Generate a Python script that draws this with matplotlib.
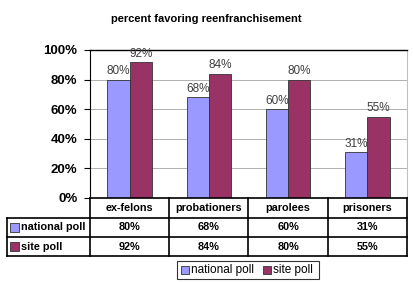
import matplotlib
matplotlib.use("Agg")
import matplotlib.pyplot as plt
from matplotlib.patches import Rectangle
import numpy as np

plt.rcParams['font.family'] = ['Liberation Sans', 'DejaVu Sans']

categories = ['ex-felons', 'probationers', 'parolees', 'prisoners']
series_names = ['national poll', 'site poll']
national_poll = [80, 68, 60, 31]
site_poll = [92, 84, 80, 55]
y_ticks = [0, 20, 40, 60, 80, 100]
title = 'percent favoring reenfranchisement'

colors = ['#9999ff', '#993366']

W, H = 414, 283
fig = plt.figure(figsize=(W / 100, H / 100), dpi=100)
fig.patch.set_facecolor('white')

# plot area in pixels
left, right, top, bottom = 90, 407, 50, 198
ax = fig.add_axes([left / W, 1 - bottom / H, (right - left) / W, (bottom - top) / H])

x = np.arange(len(categories))
bw = 0.28
series = [national_poll, site_poll]
for i, vals in enumerate(series):
    offs = (i - 0.5) * bw
    ax.bar(x + offs, vals, bw, color=colors[i], edgecolor='#333333', linewidth=0.6, zorder=3)
    for xi, v in zip(x + offs, vals):
        ax.text(xi, v + 1.5, f'{v}%', ha='center', va='bottom', fontsize=8.5,
                color='#404040', zorder=4)

ax.set_xlim(-0.5, len(categories) - 0.5)
ax.set_ylim(0, 100)
ax.set_yticks(y_ticks)
ax.set_yticklabels([f'{t}%' for t in y_ticks], fontsize=9.5, fontweight='bold')
ax.set_xticks([])
ax.tick_params(axis='y', direction='out', length=4, width=0.8, pad=5)
ax.yaxis.grid(True, color='#b0b0b0', linewidth=0.7, zorder=0)
ax.spines['left'].set_color('black')
ax.spines['top'].set_color('black')
ax.spines['top'].set_linewidth(1.0)
ax.spines['right'].set_color('#c0c0c0')
ax.spines['bottom'].set_visible(False)

fig.text(206 / W, 1 - 19 / H, title, ha='center', va='center', fontsize=8, fontweight='bold')

# data table under the plot, drawn in pixel coordinates
tab = fig.add_axes([0, 0, 1, 1], facecolor='none')
tab.set_xlim(0, W)
tab.set_ylim(H, 0)
tab.axis('off')

col_edges = np.linspace(left, right, len(categories) + 1)
row_edges = [198, 217.5, 237, 256]
lab_left = 7
lw = 1.2
# horizontal lines
tab.plot([left, right], [row_edges[0]] * 2, color='black', lw=lw)
for ry in row_edges[1:]:
    tab.plot([lab_left, right], [ry, ry], color='black', lw=lw)
# vertical lines
for cx in col_edges:
    tab.plot([cx, cx], [row_edges[0], row_edges[-1]], color='black', lw=lw)
tab.plot([lab_left, lab_left], [row_edges[1], row_edges[-1]], color='black', lw=lw)

for j, cat in enumerate(categories):
    cx = (col_edges[j] + col_edges[j + 1]) / 2
    tab.text(cx, (row_edges[0] + row_edges[1]) / 2, cat, ha='center', va='center',
             fontsize=7.8, fontweight='bold')
    for i, vals in enumerate(series):
        tab.text(cx, (row_edges[i + 1] + row_edges[i + 2]) / 2, f'{vals[j]}%',
                 ha='center', va='center', fontsize=7.8, fontweight='bold')

for i, name in enumerate(series_names):
    cy = (row_edges[i + 1] + row_edges[i + 2]) / 2
    tab.add_patch(Rectangle((10, cy - 4.5), 9, 9, facecolor=colors[i], edgecolor='#333333', lw=0.6))
    tab.text(21, cy, name, ha='left', va='center', fontsize=7.8, fontweight='bold')

# legend box
tab.add_patch(Rectangle((177, 261), 142, 18, facecolor='white', edgecolor='#333333', lw=0.8))
legend_x = [181, 263]
for i, name in enumerate(series_names):
    tab.add_patch(Rectangle((legend_x[i], 265.5), 8, 8, facecolor=colors[i],
                            edgecolor='#333333', lw=0.6))
    tab.text(legend_x[i] + 10, 270, name, ha='left', va='center', fontsize=8.5)

fig.savefig('out.png', dpi=100, facecolor='white')
